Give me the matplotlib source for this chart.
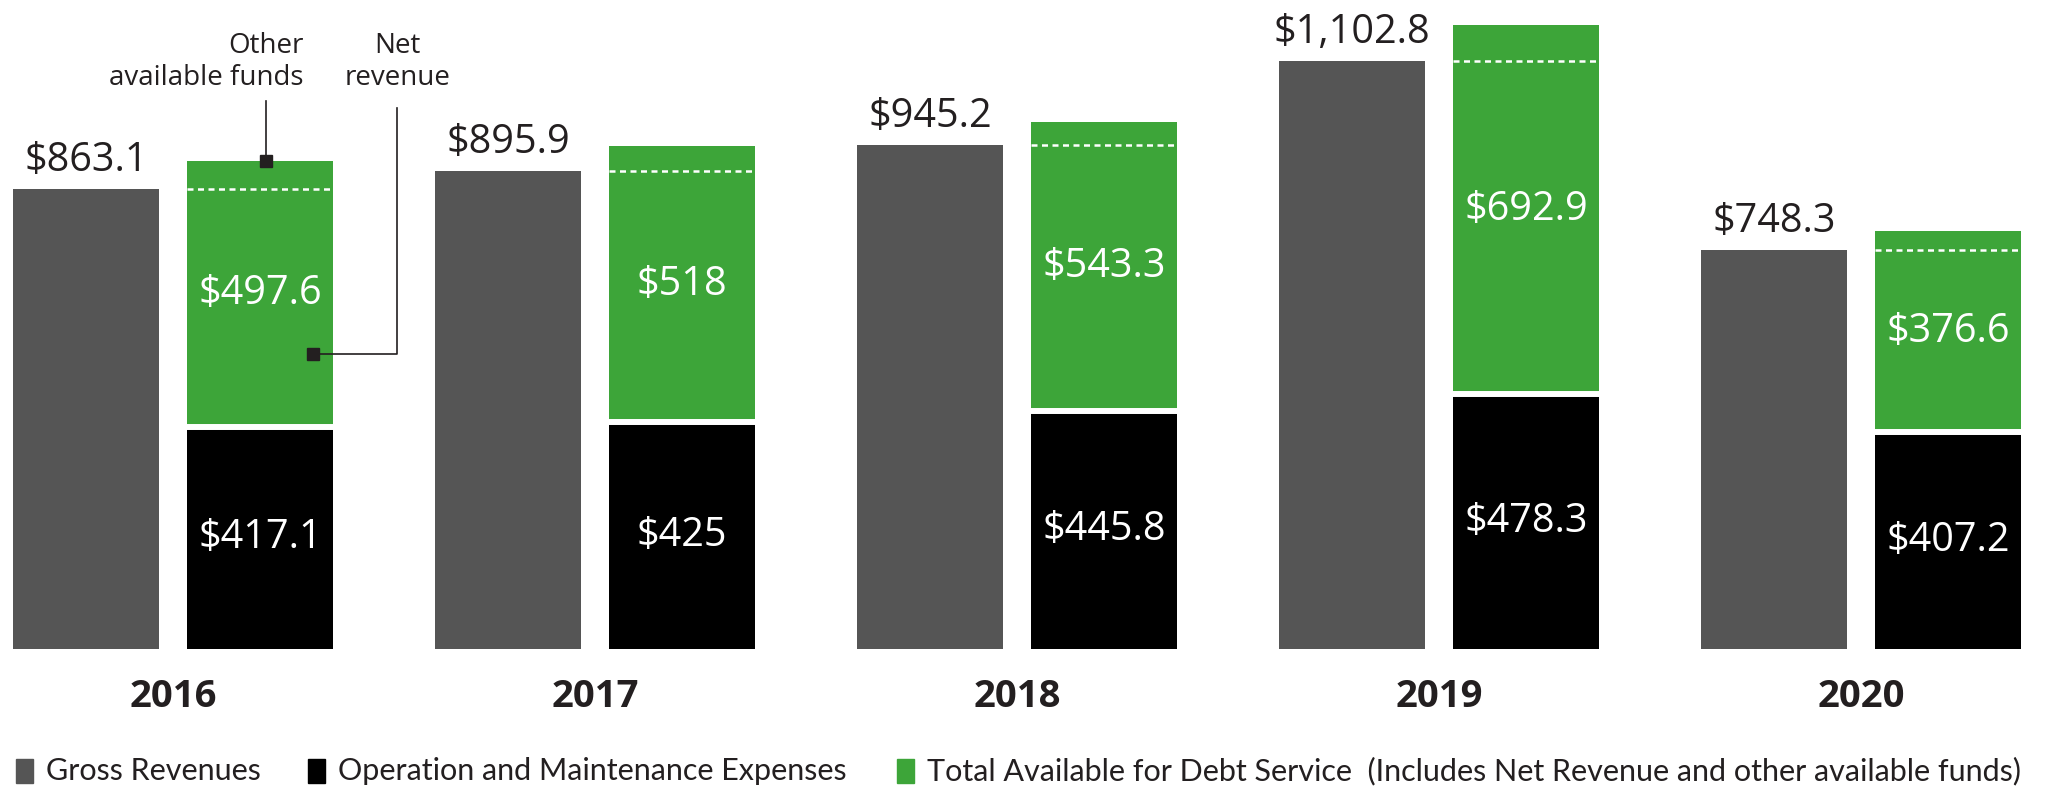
import matplotlib
matplotlib.use('Agg')
import matplotlib.pyplot as plt
from matplotlib.patches import Rectangle
import numpy as np

years = ['2016', '2017', '2018', '2019', '2020']
gross = [863.1, 895.9, 945.2, 1102.8, 748.3]
om_exp = [417.1, 425, 445.8, 478.3, 407.2]
avail = [497.6, 518, 543.3, 692.9, 376.6]
gross_lbl = ['$863.1', '$895.9', '$945.2', '$1,102.8', '$748.3']
om_lbl = ['$417.1', '$425', '$445.8', '$478.3', '$407.2']
avail_lbl = ['$497.6', '$518', '$543.3', '$692.9', '$376.6']
legend_labels = ['Gross Revenues', 'Operation and Maintenance Expenses',
                 'Total Available for Debt Service  (Includes Net Revenue and other available funds)']

C_GROSS = '#555555'
C_OM = '#000000'
C_AV = '#3da539'
C_TXT = '#231f20'
FONT = 'Open Sans'

fig = plt.figure(figsize=(20.48, 7.92), dpi=100)
ax = fig.add_axes([0, 1 - 649 / 792, 1, 649 / 792])
ax.set_xlim(-173 / 422, (2048 - 173) / 422)
ax.set_ylim(0, 649 / 0.533)
ax.axis('off')

x = np.arange(len(years))
off, w = 0.206, 0.348
xg = x - off
xa = x + off

ax.bar(xg, gross, w, color=C_GROSS, linewidth=0)
ax.bar(xa, om_exp, w, color=C_OM, linewidth=0)
ax.bar(xa, avail, w, bottom=om_exp, color=C_AV, linewidth=0)

# white gap between stacks + dashed line at gross revenue level (net revenue top)
ax.hlines(om_exp, xa - w / 2, xa + w / 2, colors='white', linewidth=4.3)
ax.hlines(gross, xa - w / 2, xa + w / 2, colors='white', linewidth=1.8,
          linestyles=(0, (2.4, 1.8)))

for i in range(len(years)):
    ax.annotate(gross_lbl[i], (xg[i], gross[i]), xytext=(0, 13), textcoords='offset points',
                ha='center', va='baseline', fontsize=28.5, color=C_TXT, family=FONT)
    ax.text(xa[i], om_exp[i] + avail[i] / 2, avail_lbl[i], ha='center', va='center',
            fontsize=28.5, color='white', family=FONT)
    ax.text(xa[i], om_exp[i] / 2, om_lbl[i], ha='center', va='center',
            fontsize=28.5, color='white', family=FONT)
    ax.text(x[i], -90, years[i], ha='center', va='center', fontsize=27.5,
            fontweight='bold', color=C_TXT, family=FONT)

# callouts on the 2016 bar
top16 = om_exp[0] + avail[0]
ax.plot([xa[0] + 0.015, xa[0] + 0.015], [top16, 1028], color='#231f20', lw=1.2, clip_on=False)
ax.plot([xa[0] + 0.015], [top16], marker='s', ms=8.5, color='#231f20', clip_on=False)
ax.text(0.31, 1058, 'Other\navailable funds', ha='right', va='baseline', fontsize=20,
        color=C_TXT, family=FONT, multialignment='right', linespacing=1.2)

nx, ny = 0.531, 553
ax.plot([nx, nx, 0.332], [1015, ny, ny], color='#231f20', lw=1.2, clip_on=False)
ax.plot([0.332], [ny], marker='s', ms=8.5, color='#231f20', clip_on=False)
ax.text(nx, 1058, 'Net\nrevenue', ha='center', va='baseline', fontsize=20,
        color=C_TXT, family=FONT, multialignment='center', linespacing=1.2)

# legend
leg_x = [16, 308, 897]
for px, lab, col in zip(leg_x, legend_labels, [C_GROSS, C_OM, C_AV]):
    fig.add_artist(Rectangle((px / 2048, 1 - 783 / 792), 17 / 2048, 24 / 792,
                             transform=fig.transFigure, color=col))
    fig.text((px + 30) / 2048, 1 - 771 / 792, lab, ha='left', va='center',
             fontsize=22, color=C_TXT, family='Lato')

fig.savefig('out.png', dpi=100)
